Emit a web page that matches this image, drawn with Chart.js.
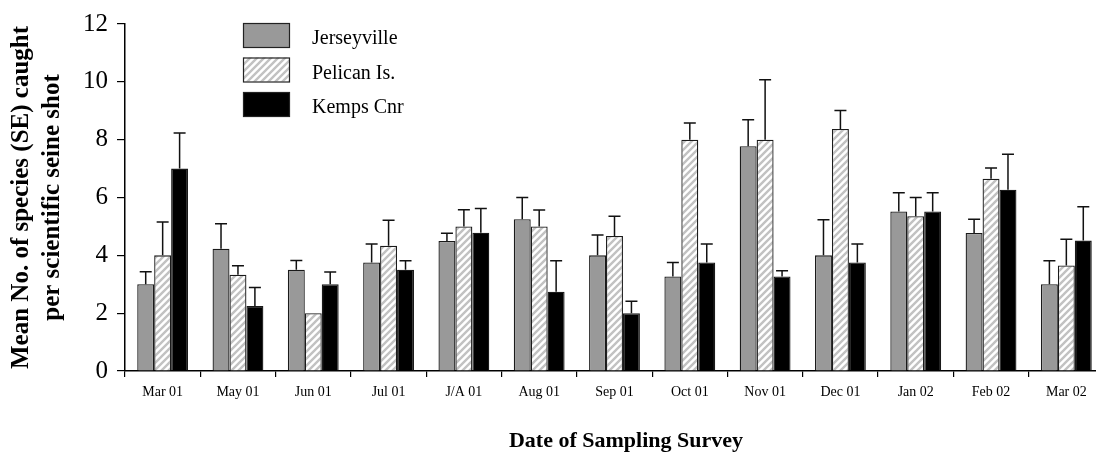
<!DOCTYPE html>
<html>
<head>
<meta charset="utf-8">
<script src="https://cdn.jsdelivr.net/npm/chart.js@4.4.0/dist/chart.umd.min.js"></script>
<style>
  html, body { margin: 0; padding: 0; background: #fff; overflow: hidden; }
  #box { width: 1096px; height: 460px; overflow: hidden; }
</style>
</head>
<body>
<div id="box"><canvas id="speciesChart" width="1104" height="460"></canvas></div>
<script>
// survey dates
const categories = ['Mar 01', 'May 01', 'Jun 01', 'Jul 01', 'J/A 01', 'Aug 01', 'Sep 01',
    'Oct 01', 'Nov 01', 'Dec 01', 'Jan 02', 'Feb 02', 'Mar 02'];

// mean no. of species per site, and its SE
const jersey   = [3.0, 4.23, 3.5, 3.75, 4.5, 5.25, 4.0, 3.27, 7.77, 4.0, 5.52, 4.77, 3.0];
const jerseySE = [0.43, 0.86, 0.32, 0.64, 0.26, 0.75, 0.7, 0.48, 0.92, 1.23, 0.64, 0.48, 0.81];
const pelican   = [4.0, 3.33, 2.0, 4.33, 5.0, 5.0, 4.67, 8.0, 8.0, 8.37, 5.35, 6.65, 3.65];
const pelicanSE = [1.15, 0.31, 0, 0.88, 0.58, 0.57, 0.68, 0.58, 2.07, 0.64, 0.65, 0.37, 0.91];
const kemps   = [7.0, 2.25, 3.0, 3.5, 4.78, 2.74, 2.0, 3.75, 3.27, 3.75, 5.52, 6.27, 4.51];
const kempsSE = [1.23, 0.64, 0.42, 0.31, 0.84, 1.07, 0.41, 0.64, 0.2, 0.64, 0.64, 1.23, 1.17];

const yTicks = [0, 2, 4, 6, 8, 10, 12];

const serif = "'Liberation Serif', 'Times New Roman', serif";

// diagonal hatch for Pelican Is.
function makeHatch() {
    const c = document.createElement('canvas');
    c.width = 7;
    c.height = 7;
    const g = c.getContext('2d');
    g.fillStyle = '#ffffff';
    g.fillRect(0, 0, 7, 7);
    g.strokeStyle = '#c2c2c2';
    g.lineWidth = 2.4;
    g.beginPath();
    g.moveTo(-1, 8); g.lineTo(8, -1);
    g.moveTo(-1, 1); g.lineTo(1, -1);
    g.moveTo(6, 8); g.lineTo(8, 6);
    g.stroke();
    return g.createPattern(c, 'repeat');
}
const hatch = makeHatch();

const errors = [jerseySE, pelicanSE, kempsSE];

// error bars (upper only)
const errorBars = {
    id: 'errorBars',
    afterDatasetsDraw(chart) {
        const ctx = chart.ctx;
        const y = chart.scales.y;
        ctx.save();
        ctx.strokeStyle = '#111';
        ctx.lineWidth = 1.5;
        chart.data.datasets.forEach((ds, i) => {
            const meta = chart.getDatasetMeta(i);
            meta.data.forEach((bar, j) => {
                const se = errors[i][j];
                if (!se) return;
                const top = y.getPixelForValue(ds.data[j] + se);
                ctx.beginPath();
                ctx.moveTo(bar.x, bar.y);
                ctx.lineTo(bar.x, top);
                ctx.moveTo(bar.x - 6, top);
                ctx.lineTo(bar.x + 6, top);
                ctx.stroke();
            });
        });
        ctx.restore();
    }
};

// legend block + x axis title
const extras = {
    id: 'extras',
    afterDraw(chart) {
        const ctx = chart.ctx;
        ctx.save();
        chart.data.datasets.forEach((ds, i) => {
            const top = 23 + i * 34.5;
            ctx.fillStyle = ds.backgroundColor;
            ctx.fillRect(243, top, 46, 24);
            ctx.strokeStyle = '#222';
            ctx.lineWidth = 1.2;
            ctx.strokeRect(243.5, top + 0.5, 46, 24);
            ctx.fillStyle = '#000';
            ctx.font = '20px ' + serif;
            ctx.textBaseline = 'middle';
            ctx.textAlign = 'left';
            ctx.fillText(ds.label, 312, top + 16);
        });
        ctx.font = 'bold 22px ' + serif;
        ctx.textAlign = 'center';
        ctx.textBaseline = 'middle';
        ctx.fillText('Date of Sampling Survey', 626, 441);
        ctx.restore();
    }
};

new Chart(document.getElementById('speciesChart'), {
    type: 'bar',
    data: {
        labels: categories,
        datasets: [
            { label: 'Jerseyville', data: jersey, backgroundColor: '#999999' },
            { label: 'Pelican Is.', data: pelican, backgroundColor: hatch },
            { label: 'Kemps Cnr', data: kemps, backgroundColor: '#000000' }
        ]
    },
    options: {
        responsive: false,
        animation: false,
        layout: { padding: { top: 19, left: 0, right: 0, bottom: 0 } },
        datasets: {
            bar: {
                borderColor: '#1a1a1a',
                borderWidth: 1.3,
                barPercentage: 1,
                categoryPercentage: 0.675
            }
        },
        plugins: {
            legend: { display: false },
            tooltip: { enabled: false }
        },
        scales: {
            x: {
                afterFit(s) { s.height = 89; },
                border: { color: '#000', width: 1.5 },
                grid: { drawOnChartArea: false, color: '#000', tickLength: 6, lineWidth: 1.2 },
                ticks: { color: '#000', padding: 7, font: { family: serif, size: 14 } }
            },
            y: {
                min: 0,
                max: 12,
                afterFit(s) { s.width = 125; },
                afterBuildTicks(s) { s.ticks = yTicks.map(v => ({ value: v })); },
                border: { color: '#000', width: 1.5 },
                grid: { drawOnChartArea: false, color: '#000', tickLength: 8, lineWidth: 1.2 },
                ticks: { color: '#000', padding: 9, font: { family: serif, size: 25 } },
                title: {
                    display: true,
                    text: ['Mean No. of species (SE) caught', 'per scientific seine shot'],
                    color: '#000',
                    padding: { top: 6, bottom: 0 },
                    font: { family: serif, size: 25, weight: 'bold', lineHeight: 1.25 }
                }
            }
        }
    },
    plugins: [errorBars, extras]
});
</script>
</body>
</html>
